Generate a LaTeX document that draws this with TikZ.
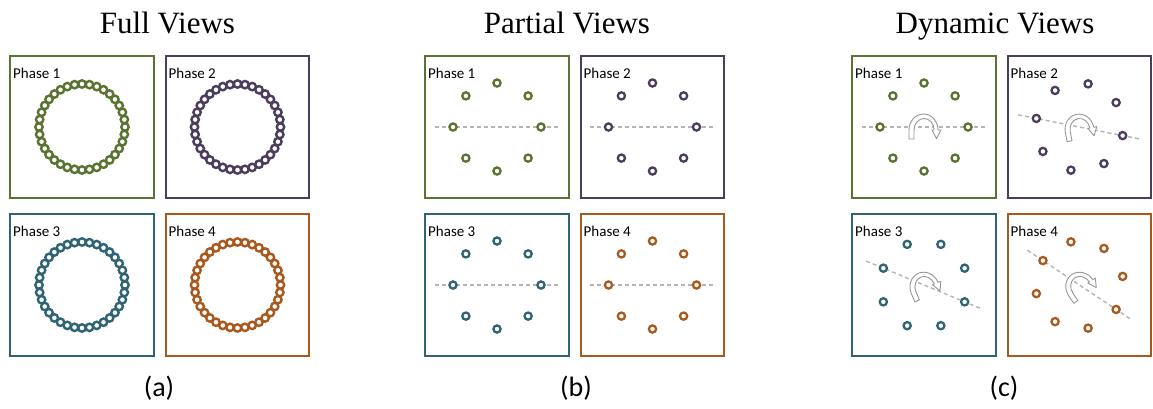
\documentclass[tikz,border=0pt]{standalone}
\usepackage{fontspec}
\setmainfont{Liberation Serif}
\newfontfamily\calibrifont{Carlito}
\definecolor{cgreen}{RGB}{91,115,49}
\definecolor{cpurple}{RGB}{75,61,94}
\definecolor{cteal}{RGB}{47,100,116}
\definecolor{corange}{RGB}{168,90,30}
\definecolor{dashgray}{RGB}{180,180,180}
\definecolor{arrowgray}{RGB}{150,150,150}
\tikzset{
  panel/.style={draw=#1, line width=2.3pt, minimum width=143.5pt, minimum height=141.5pt, inner sep=0pt, outer sep=0pt},
  phaselbl/.style={font=\calibrifont\fontsize{15}{15}\selectfont, anchor=base west, inner sep=0pt},
  viewtitle/.style={font=\fontsize{31}{31}\selectfont, anchor=base, inner sep=0pt},
  subcap/.style={font=\calibrifont\fontsize{28}{28}\selectfont, anchor=base, inner sep=0pt},
  ringdot/.style={circle, draw=#1, fill=white, line width=2.4pt, minimum size=7.4pt, inner sep=0pt},
  sdot/.style={circle, draw=#1, fill=white, line width=2.3pt, minimum size=7.2pt, inner sep=0pt},
  axisline/.style={draw=dashgray, line width=1.4pt, dash pattern=on 4pt off 3pt},
  turnarrow/.style={draw=arrowgray, fill=white, line width=0.9pt, line join=round}
}
\begin{document}
\begin{tikzpicture}[x=1pt,y=-1pt]
\useasboundingbox (0,0) rectangle (1153,408);
% titles
\node[viewtitle] (tfull) at (167.5,33) {Full Views};
\node[viewtitle] (tpart) at (567,33) {Partial Views};
\node[viewtitle] (tdyn) at (995,33) {Dynamic Views};
% captions
\node[subcap] (capa) at (159,396) {(a)};
\node[subcap] (capb) at (576,396) {(b)};
\node[subcap] (capc) at (1004,396) {(c)};
% panels
\foreach \p/\X in {a/9,b/424,c/851} {
  \foreach \k/\dx/\dy/\col in {1/0/0/cgreen, 2/155.5/0/cpurple, 3/0/158/cteal, 4/155.5/158/corange} {
    \pgfmathsetmacro{\cx}{\X+\dx+73}
    \pgfmathsetmacro{\cy}{55+\dy+72}
    \node[panel=\col] (\p\k) at (\cx,\cy) {};
    \node[phaselbl] (\p\k-lbl) at ({\X+\dx+4},{55+\dy+23}) {Phase \k};
  }
}
% (a) full views: rings of 36 dots
\foreach \k/\col in {1/cgreen,2/cpurple,3/cteal,4/corange} {
  \foreach \j in {0,...,35} {
    \node[ringdot=\col] (a\k-\j) at ([shift={({43*cos(\j*10)},{-43*sin(\j*10)})}]a\k.center) {};
  }
}
% (b) partial views
\foreach \k/\col in {1/cgreen,2/cpurple,3/cteal,4/corange} {
  \coordinate (b\k-L) at ([shift={(-62.5,0)}]b\k.center);
  \coordinate (b\k-R) at ([shift={(62.5,0)}]b\k.center);
  \draw[axisline] (b\k-L) -- (b\k-R);
  \foreach \j in {0,...,7} {
    \node[sdot=\col] (b\k-\j) at ([shift={({44*cos(\j*45)},{-44*sin(\j*45)})}]b\k.center) {};
  }
}
% (c) dynamic views
\foreach \k/\col in {1/cgreen,2/cpurple,3/cteal,4/corange} {
  \pgfmathsetmacro{\rho}{-11.25*(\k-1)}
  \coordinate (c\k-L) at ([shift={({62.5*cos(\rho+180)},{-62.5*sin(\rho+180)})}]c\k.center);
  \coordinate (c\k-R) at ([shift={({62.5*cos(\rho)},{-62.5*sin(\rho)})}]c\k.center);
  \draw[axisline] (c\k-L) -- (c\k-R);
  \foreach \j in {0,...,7} {
    \node[sdot=\col] (c\k-\j) at ([shift={({44*cos(\rho+\j*45)},{-44*sin(\rho+\j*45)})}]c\k.center) {};
  }
  \begin{scope}[shift={(c\k.center)}, yscale=-1, rotate=\rho]
    \path[turnarrow] (-15,-12) -- (-15,-3)
      arc[start angle=180, end angle=0, x radius=14.5, y radius=16]
      -- (17,-3) -- (12.5,-11.5) -- (8,-3) -- (10,-3)
      arc[start angle=0, end angle=180, x radius=10, y radius=11.5]
      -- (-10,-12) -- cycle;
  \end{scope}
}
\end{tikzpicture}
\end{document}
